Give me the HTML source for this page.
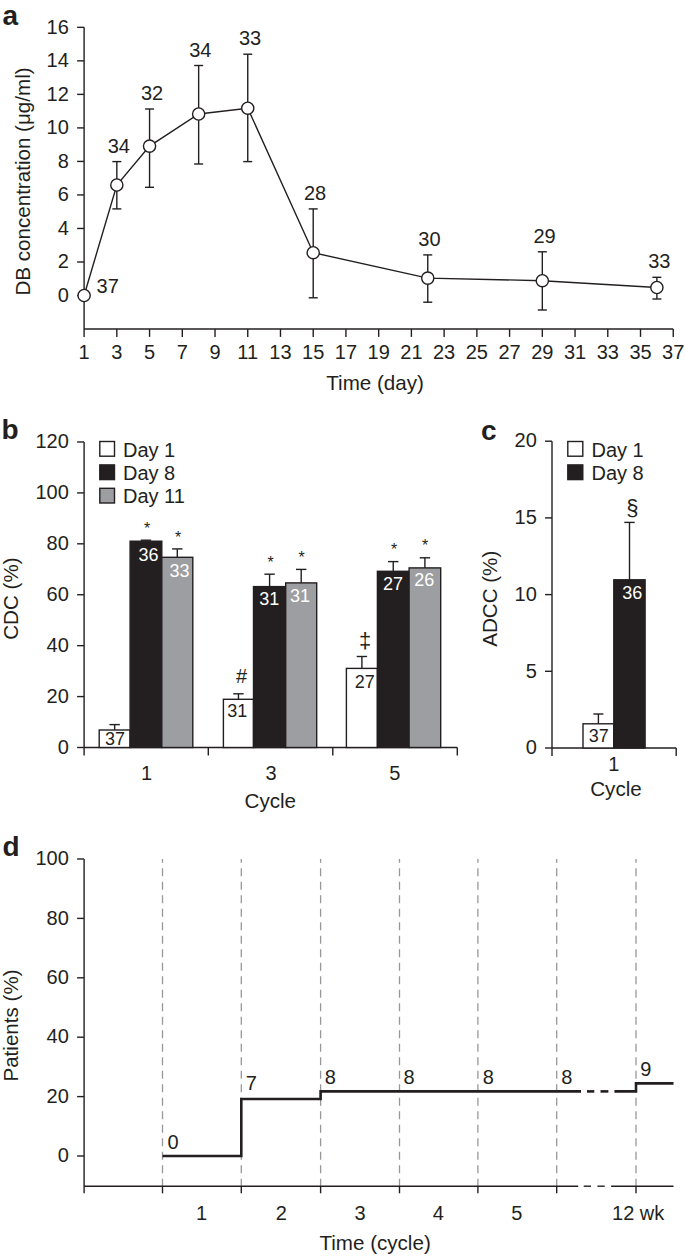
<!DOCTYPE html>
<html><head><meta charset="utf-8"><style>
html,body{margin:0;padding:0;background:#fff;}
svg{display:block;font-family:"Liberation Sans", sans-serif;}
</style></head><body>
<svg width="685" height="1260" viewBox="0 0 685 1260">
<rect width="685" height="1260" fill="#fff"/>
<text x="2.50" y="25.30" font-size="28" text-anchor="start" fill="#231f20" font-weight="bold" >a</text>
<line x1="84.10" y1="27.34" x2="84.10" y2="329.00" stroke="#231f20" stroke-width="1.4" />
<line x1="77.10" y1="295.50" x2="84.10" y2="295.50" stroke="#231f20" stroke-width="1.4" />
<text x="68.80" y="301.79" font-size="20" text-anchor="end" fill="#231f20" font-weight="normal" >0</text>
<line x1="77.10" y1="261.98" x2="84.10" y2="261.98" stroke="#231f20" stroke-width="1.4" />
<text x="68.80" y="268.27" font-size="20" text-anchor="end" fill="#231f20" font-weight="normal" >2</text>
<line x1="77.10" y1="228.46" x2="84.10" y2="228.46" stroke="#231f20" stroke-width="1.4" />
<text x="68.80" y="234.75" font-size="20" text-anchor="end" fill="#231f20" font-weight="normal" >4</text>
<line x1="77.10" y1="194.94" x2="84.10" y2="194.94" stroke="#231f20" stroke-width="1.4" />
<text x="68.80" y="201.23" font-size="20" text-anchor="end" fill="#231f20" font-weight="normal" >6</text>
<line x1="77.10" y1="161.42" x2="84.10" y2="161.42" stroke="#231f20" stroke-width="1.4" />
<text x="68.80" y="167.71" font-size="20" text-anchor="end" fill="#231f20" font-weight="normal" >8</text>
<line x1="77.10" y1="127.90" x2="84.10" y2="127.90" stroke="#231f20" stroke-width="1.4" />
<text x="68.80" y="134.19" font-size="20" text-anchor="end" fill="#231f20" font-weight="normal" >10</text>
<line x1="77.10" y1="94.38" x2="84.10" y2="94.38" stroke="#231f20" stroke-width="1.4" />
<text x="68.80" y="100.67" font-size="20" text-anchor="end" fill="#231f20" font-weight="normal" >12</text>
<line x1="77.10" y1="60.86" x2="84.10" y2="60.86" stroke="#231f20" stroke-width="1.4" />
<text x="68.80" y="67.15" font-size="20" text-anchor="end" fill="#231f20" font-weight="normal" >14</text>
<line x1="77.10" y1="27.34" x2="84.10" y2="27.34" stroke="#231f20" stroke-width="1.4" />
<text x="68.80" y="33.63" font-size="20" text-anchor="end" fill="#231f20" font-weight="normal" >16</text>
<line x1="84.10" y1="329.00" x2="673.24" y2="329.00" stroke="#231f20" stroke-width="1.4" />
<line x1="84.10" y1="329.00" x2="84.10" y2="336.90" stroke="#231f20" stroke-width="1.4" />
<text x="84.10" y="359.49" font-size="20" text-anchor="middle" fill="#231f20" font-weight="normal" >1</text>
<line x1="116.83" y1="329.00" x2="116.83" y2="336.90" stroke="#231f20" stroke-width="1.4" />
<text x="116.83" y="359.49" font-size="20" text-anchor="middle" fill="#231f20" font-weight="normal" >3</text>
<line x1="149.56" y1="329.00" x2="149.56" y2="336.90" stroke="#231f20" stroke-width="1.4" />
<text x="149.56" y="359.49" font-size="20" text-anchor="middle" fill="#231f20" font-weight="normal" >5</text>
<line x1="182.29" y1="329.00" x2="182.29" y2="336.90" stroke="#231f20" stroke-width="1.4" />
<text x="182.29" y="359.49" font-size="20" text-anchor="middle" fill="#231f20" font-weight="normal" >7</text>
<line x1="215.02" y1="329.00" x2="215.02" y2="336.90" stroke="#231f20" stroke-width="1.4" />
<text x="215.02" y="359.49" font-size="20" text-anchor="middle" fill="#231f20" font-weight="normal" >9</text>
<line x1="247.75" y1="329.00" x2="247.75" y2="336.90" stroke="#231f20" stroke-width="1.4" />
<text x="247.75" y="359.49" font-size="20" text-anchor="middle" fill="#231f20" font-weight="normal" >11</text>
<line x1="280.48" y1="329.00" x2="280.48" y2="336.90" stroke="#231f20" stroke-width="1.4" />
<text x="280.48" y="359.49" font-size="20" text-anchor="middle" fill="#231f20" font-weight="normal" >13</text>
<line x1="313.21" y1="329.00" x2="313.21" y2="336.90" stroke="#231f20" stroke-width="1.4" />
<text x="313.21" y="359.49" font-size="20" text-anchor="middle" fill="#231f20" font-weight="normal" >15</text>
<line x1="345.94" y1="329.00" x2="345.94" y2="336.90" stroke="#231f20" stroke-width="1.4" />
<text x="345.94" y="359.49" font-size="20" text-anchor="middle" fill="#231f20" font-weight="normal" >17</text>
<line x1="378.67" y1="329.00" x2="378.67" y2="336.90" stroke="#231f20" stroke-width="1.4" />
<text x="378.67" y="359.49" font-size="20" text-anchor="middle" fill="#231f20" font-weight="normal" >19</text>
<line x1="411.40" y1="329.00" x2="411.40" y2="336.90" stroke="#231f20" stroke-width="1.4" />
<text x="411.40" y="359.49" font-size="20" text-anchor="middle" fill="#231f20" font-weight="normal" >21</text>
<line x1="444.13" y1="329.00" x2="444.13" y2="336.90" stroke="#231f20" stroke-width="1.4" />
<text x="444.13" y="359.49" font-size="20" text-anchor="middle" fill="#231f20" font-weight="normal" >23</text>
<line x1="476.86" y1="329.00" x2="476.86" y2="336.90" stroke="#231f20" stroke-width="1.4" />
<text x="476.86" y="359.49" font-size="20" text-anchor="middle" fill="#231f20" font-weight="normal" >25</text>
<line x1="509.59" y1="329.00" x2="509.59" y2="336.90" stroke="#231f20" stroke-width="1.4" />
<text x="509.59" y="359.49" font-size="20" text-anchor="middle" fill="#231f20" font-weight="normal" >27</text>
<line x1="542.32" y1="329.00" x2="542.32" y2="336.90" stroke="#231f20" stroke-width="1.4" />
<text x="542.32" y="359.49" font-size="20" text-anchor="middle" fill="#231f20" font-weight="normal" >29</text>
<line x1="575.05" y1="329.00" x2="575.05" y2="336.90" stroke="#231f20" stroke-width="1.4" />
<text x="575.05" y="359.49" font-size="20" text-anchor="middle" fill="#231f20" font-weight="normal" >31</text>
<line x1="607.78" y1="329.00" x2="607.78" y2="336.90" stroke="#231f20" stroke-width="1.4" />
<text x="607.78" y="359.49" font-size="20" text-anchor="middle" fill="#231f20" font-weight="normal" >33</text>
<line x1="640.51" y1="329.00" x2="640.51" y2="336.90" stroke="#231f20" stroke-width="1.4" />
<text x="640.51" y="359.49" font-size="20" text-anchor="middle" fill="#231f20" font-weight="normal" >35</text>
<line x1="673.24" y1="329.00" x2="673.24" y2="336.90" stroke="#231f20" stroke-width="1.4" />
<text x="673.24" y="359.49" font-size="20" text-anchor="middle" fill="#231f20" font-weight="normal" >37</text>
<text x="375.10" y="389.60" font-size="20.6" text-anchor="middle" fill="#231f20" font-weight="normal" >Time (day)</text>
<text transform="translate(29.8,181.5) rotate(-90)" font-size="20.6" text-anchor="middle" fill="#231f20">DB concentration (μg/ml)</text>
<line x1="116.83" y1="161.60" x2="116.83" y2="208.90" stroke="#231f20" stroke-width="1.4" />
<line x1="112.33" y1="161.60" x2="121.33" y2="161.60" stroke="#231f20" stroke-width="1.4" />
<line x1="112.33" y1="208.90" x2="121.33" y2="208.90" stroke="#231f20" stroke-width="1.4" />
<line x1="149.56" y1="109.00" x2="149.56" y2="187.30" stroke="#231f20" stroke-width="1.4" />
<line x1="145.06" y1="109.00" x2="154.06" y2="109.00" stroke="#231f20" stroke-width="1.4" />
<line x1="145.06" y1="187.30" x2="154.06" y2="187.30" stroke="#231f20" stroke-width="1.4" />
<line x1="198.65" y1="65.50" x2="198.65" y2="164.00" stroke="#231f20" stroke-width="1.4" />
<line x1="194.15" y1="65.50" x2="203.15" y2="65.50" stroke="#231f20" stroke-width="1.4" />
<line x1="194.15" y1="164.00" x2="203.15" y2="164.00" stroke="#231f20" stroke-width="1.4" />
<line x1="247.75" y1="54.20" x2="247.75" y2="161.60" stroke="#231f20" stroke-width="1.4" />
<line x1="243.25" y1="54.20" x2="252.25" y2="54.20" stroke="#231f20" stroke-width="1.4" />
<line x1="243.25" y1="161.60" x2="252.25" y2="161.60" stroke="#231f20" stroke-width="1.4" />
<line x1="313.21" y1="208.90" x2="313.21" y2="297.80" stroke="#231f20" stroke-width="1.4" />
<line x1="308.71" y1="208.90" x2="317.71" y2="208.90" stroke="#231f20" stroke-width="1.4" />
<line x1="308.71" y1="297.80" x2="317.71" y2="297.80" stroke="#231f20" stroke-width="1.4" />
<line x1="427.76" y1="254.90" x2="427.76" y2="302.20" stroke="#231f20" stroke-width="1.4" />
<line x1="423.26" y1="254.90" x2="432.26" y2="254.90" stroke="#231f20" stroke-width="1.4" />
<line x1="423.26" y1="302.20" x2="432.26" y2="302.20" stroke="#231f20" stroke-width="1.4" />
<line x1="542.32" y1="251.80" x2="542.32" y2="310.00" stroke="#231f20" stroke-width="1.4" />
<line x1="537.82" y1="251.80" x2="546.82" y2="251.80" stroke="#231f20" stroke-width="1.4" />
<line x1="537.82" y1="310.00" x2="546.82" y2="310.00" stroke="#231f20" stroke-width="1.4" />
<line x1="656.88" y1="277.30" x2="656.88" y2="299.00" stroke="#231f20" stroke-width="1.4" />
<line x1="652.38" y1="277.30" x2="661.38" y2="277.30" stroke="#231f20" stroke-width="1.4" />
<line x1="652.38" y1="299.00" x2="661.38" y2="299.00" stroke="#231f20" stroke-width="1.4" />
<polyline points="84.10,295.50 116.83,185.00 149.56,146.10 198.65,114.00 247.75,108.20 313.21,252.70 427.76,278.10 542.32,280.70 656.88,287.50" fill="none" stroke="#231f20" stroke-width="1.4"/>
<circle cx="84.10" cy="295.50" r="6.1" fill="#fff" stroke="#231f20" stroke-width="1.4"/>
<text x="107.70" y="292.59" font-size="20" text-anchor="middle" fill="#231f20" font-weight="normal" >37</text>
<circle cx="116.83" cy="185.00" r="6.1" fill="#fff" stroke="#231f20" stroke-width="1.4"/>
<text x="118.80" y="152.69" font-size="20" text-anchor="middle" fill="#231f20" font-weight="normal" >34</text>
<circle cx="149.56" cy="146.10" r="6.1" fill="#fff" stroke="#231f20" stroke-width="1.4"/>
<text x="152.00" y="100.19" font-size="20" text-anchor="middle" fill="#231f20" font-weight="normal" >32</text>
<circle cx="198.65" cy="114.00" r="6.1" fill="#fff" stroke="#231f20" stroke-width="1.4"/>
<text x="200.30" y="56.99" font-size="20" text-anchor="middle" fill="#231f20" font-weight="normal" >34</text>
<circle cx="247.75" cy="108.20" r="6.1" fill="#fff" stroke="#231f20" stroke-width="1.4"/>
<text x="250.00" y="45.29" font-size="20" text-anchor="middle" fill="#231f20" font-weight="normal" >33</text>
<circle cx="313.21" cy="252.70" r="6.1" fill="#fff" stroke="#231f20" stroke-width="1.4"/>
<text x="315.00" y="200.29" font-size="20" text-anchor="middle" fill="#231f20" font-weight="normal" >28</text>
<circle cx="427.76" cy="278.10" r="6.1" fill="#fff" stroke="#231f20" stroke-width="1.4"/>
<text x="429.40" y="245.89" font-size="20" text-anchor="middle" fill="#231f20" font-weight="normal" >30</text>
<circle cx="542.32" cy="280.70" r="6.1" fill="#fff" stroke="#231f20" stroke-width="1.4"/>
<text x="544.60" y="243.29" font-size="20" text-anchor="middle" fill="#231f20" font-weight="normal" >29</text>
<circle cx="656.88" cy="287.50" r="6.1" fill="#fff" stroke="#231f20" stroke-width="1.4"/>
<text x="659.30" y="268.29" font-size="20" text-anchor="middle" fill="#231f20" font-weight="normal" >33</text>
<text x="1.40" y="438.50" font-size="28" text-anchor="start" fill="#231f20" font-weight="bold" >b</text>
<line x1="84.10" y1="441.98" x2="84.10" y2="755.50" stroke="#231f20" stroke-width="1.4" />
<line x1="77.10" y1="747.50" x2="84.10" y2="747.50" stroke="#231f20" stroke-width="1.4" />
<text x="68.80" y="753.79" font-size="20" text-anchor="end" fill="#231f20" font-weight="normal" >0</text>
<line x1="77.10" y1="696.58" x2="84.10" y2="696.58" stroke="#231f20" stroke-width="1.4" />
<text x="68.80" y="702.87" font-size="20" text-anchor="end" fill="#231f20" font-weight="normal" >20</text>
<line x1="77.10" y1="645.66" x2="84.10" y2="645.66" stroke="#231f20" stroke-width="1.4" />
<text x="68.80" y="651.95" font-size="20" text-anchor="end" fill="#231f20" font-weight="normal" >40</text>
<line x1="77.10" y1="594.74" x2="84.10" y2="594.74" stroke="#231f20" stroke-width="1.4" />
<text x="68.80" y="601.03" font-size="20" text-anchor="end" fill="#231f20" font-weight="normal" >60</text>
<line x1="77.10" y1="543.82" x2="84.10" y2="543.82" stroke="#231f20" stroke-width="1.4" />
<text x="68.80" y="550.11" font-size="20" text-anchor="end" fill="#231f20" font-weight="normal" >80</text>
<line x1="77.10" y1="492.90" x2="84.10" y2="492.90" stroke="#231f20" stroke-width="1.4" />
<text x="68.80" y="499.19" font-size="20" text-anchor="end" fill="#231f20" font-weight="normal" >100</text>
<line x1="77.10" y1="441.98" x2="84.10" y2="441.98" stroke="#231f20" stroke-width="1.4" />
<text x="68.80" y="448.27" font-size="20" text-anchor="end" fill="#231f20" font-weight="normal" >120</text>
<line x1="84.10" y1="747.50" x2="457.30" y2="747.50" stroke="#231f20" stroke-width="1.4" />
<line x1="208.30" y1="747.50" x2="208.30" y2="755.50" stroke="#231f20" stroke-width="1.4" />
<line x1="332.80" y1="747.50" x2="332.80" y2="755.50" stroke="#231f20" stroke-width="1.4" />
<line x1="457.30" y1="747.50" x2="457.30" y2="755.50" stroke="#231f20" stroke-width="1.4" />
<rect x="99.80" y="441.50" width="14.70" height="14.70" fill="#fff" stroke="#231f20" stroke-width="1.4"/>
<text x="123.00" y="456.60" font-size="20" text-anchor="start" fill="#231f20" font-weight="normal" >Day 1</text>
<rect x="99.80" y="464.90" width="14.70" height="14.70" fill="#231f20" stroke="#231f20" stroke-width="1.4"/>
<text x="123.00" y="479.60" font-size="20" text-anchor="start" fill="#231f20" font-weight="normal" >Day 8</text>
<rect x="99.80" y="488.30" width="14.70" height="14.70" fill="#9d9ea1" stroke="#231f20" stroke-width="1.4"/>
<text x="123.00" y="502.60" font-size="20" text-anchor="start" fill="#231f20" font-weight="normal" >Day 11</text>
<line x1="114.65" y1="730.00" x2="114.65" y2="724.60" stroke="#231f20" stroke-width="1.4" />
<line x1="109.45" y1="724.60" x2="119.85" y2="724.60" stroke="#231f20" stroke-width="1.4" />
<rect x="99.20" y="730.00" width="30.90" height="17.50" fill="#fff" stroke="#231f20" stroke-width="1.4"/>
<text x="114.90" y="745.00" font-size="18" text-anchor="middle" fill="#231f20" font-weight="normal" >37</text>
<line x1="145.95" y1="541.20" x2="145.95" y2="540.20" stroke="#231f20" stroke-width="1.4" />
<line x1="140.75" y1="540.20" x2="151.15" y2="540.20" stroke="#231f20" stroke-width="1.4" />
<rect x="130.10" y="541.20" width="31.70" height="206.30" fill="#231f20" stroke="#231f20" stroke-width="1.4"/>
<text x="148.40" y="560.80" font-size="18" text-anchor="middle" fill="#fff" font-weight="normal" >36</text>
<text x="147.10" y="533.61" font-size="16" text-anchor="middle" fill="#231f20" font-weight="normal" >*</text>
<line x1="177.30" y1="557.30" x2="177.30" y2="548.90" stroke="#231f20" stroke-width="1.4" />
<line x1="172.10" y1="548.90" x2="182.50" y2="548.90" stroke="#231f20" stroke-width="1.4" />
<rect x="161.80" y="557.30" width="31.00" height="190.20" fill="#9d9ea1" stroke="#231f20" stroke-width="1.4"/>
<text x="179.50" y="576.90" font-size="18" text-anchor="middle" fill="#fff" font-weight="normal" >33</text>
<text x="178.00" y="542.61" font-size="16" text-anchor="middle" fill="#231f20" font-weight="normal" >*</text>
<line x1="238.45" y1="699.30" x2="238.45" y2="693.80" stroke="#231f20" stroke-width="1.4" />
<line x1="233.25" y1="693.80" x2="243.65" y2="693.80" stroke="#231f20" stroke-width="1.4" />
<rect x="223.40" y="699.30" width="30.10" height="48.20" fill="#fff" stroke="#231f20" stroke-width="1.4"/>
<text x="237.30" y="716.60" font-size="18" text-anchor="middle" fill="#231f20" font-weight="normal" >31</text>
<text x="241.50" y="683.35" font-size="20" text-anchor="middle" fill="#231f20" font-weight="normal" >#</text>
<line x1="269.60" y1="586.60" x2="269.60" y2="574.20" stroke="#231f20" stroke-width="1.4" />
<line x1="264.40" y1="574.20" x2="274.80" y2="574.20" stroke="#231f20" stroke-width="1.4" />
<rect x="253.50" y="586.60" width="32.20" height="160.90" fill="#231f20" stroke="#231f20" stroke-width="1.4"/>
<text x="269.20" y="605.40" font-size="18" text-anchor="middle" fill="#fff" font-weight="normal" >31</text>
<text x="270.60" y="567.91" font-size="16" text-anchor="middle" fill="#231f20" font-weight="normal" >*</text>
<line x1="301.20" y1="582.90" x2="301.20" y2="569.40" stroke="#231f20" stroke-width="1.4" />
<line x1="296.00" y1="569.40" x2="306.40" y2="569.40" stroke="#231f20" stroke-width="1.4" />
<rect x="285.70" y="582.90" width="31.00" height="164.60" fill="#9d9ea1" stroke="#231f20" stroke-width="1.4"/>
<text x="300.00" y="601.80" font-size="18" text-anchor="middle" fill="#fff" font-weight="normal" >31</text>
<text x="301.70" y="563.11" font-size="16" text-anchor="middle" fill="#231f20" font-weight="normal" >*</text>
<line x1="361.90" y1="668.40" x2="361.90" y2="656.50" stroke="#231f20" stroke-width="1.4" />
<line x1="356.70" y1="656.50" x2="367.10" y2="656.50" stroke="#231f20" stroke-width="1.4" />
<rect x="346.40" y="668.40" width="31.00" height="79.10" fill="#fff" stroke="#231f20" stroke-width="1.4"/>
<text x="364.70" y="688.00" font-size="18" text-anchor="middle" fill="#231f20" font-weight="normal" >27</text>
<text x="365.10" y="648.43" font-size="22" text-anchor="middle" fill="#231f20" font-weight="normal" >‡</text>
<line x1="393.25" y1="571.30" x2="393.25" y2="561.60" stroke="#231f20" stroke-width="1.4" />
<line x1="388.05" y1="561.60" x2="398.45" y2="561.60" stroke="#231f20" stroke-width="1.4" />
<rect x="377.40" y="571.30" width="31.70" height="176.20" fill="#231f20" stroke="#231f20" stroke-width="1.4"/>
<text x="393.00" y="590.40" font-size="18" text-anchor="middle" fill="#fff" font-weight="normal" >27</text>
<text x="394.00" y="555.31" font-size="16" text-anchor="middle" fill="#231f20" font-weight="normal" >*</text>
<line x1="424.90" y1="567.90" x2="424.90" y2="557.80" stroke="#231f20" stroke-width="1.4" />
<line x1="419.70" y1="557.80" x2="430.10" y2="557.80" stroke="#231f20" stroke-width="1.4" />
<rect x="409.10" y="567.90" width="31.60" height="179.60" fill="#9d9ea1" stroke="#231f20" stroke-width="1.4"/>
<text x="424.30" y="585.80" font-size="18" text-anchor="middle" fill="#fff" font-weight="normal" >26</text>
<text x="425.10" y="551.21" font-size="16" text-anchor="middle" fill="#231f20" font-weight="normal" >*</text>
<text x="146.60" y="779.59" font-size="20" text-anchor="middle" fill="#231f20" font-weight="normal" >1</text>
<text x="271.00" y="779.59" font-size="20" text-anchor="middle" fill="#231f20" font-weight="normal" >3</text>
<text x="394.70" y="779.59" font-size="20" text-anchor="middle" fill="#231f20" font-weight="normal" >5</text>
<text x="270.30" y="807.50" font-size="20.6" text-anchor="middle" fill="#231f20" font-weight="normal" >Cycle</text>
<text transform="translate(17.8,598.6) rotate(-90)" font-size="20.6" text-anchor="middle" fill="#231f20">CDC (%)</text>
<text x="481.00" y="439.60" font-size="28" text-anchor="start" fill="#231f20" font-weight="bold" >c</text>
<line x1="552.00" y1="441.20" x2="552.00" y2="756.00" stroke="#231f20" stroke-width="1.4" />
<line x1="545.00" y1="748.00" x2="552.00" y2="748.00" stroke="#231f20" stroke-width="1.4" />
<text x="536.80" y="754.29" font-size="20" text-anchor="end" fill="#231f20" font-weight="normal" >0</text>
<line x1="545.00" y1="671.30" x2="552.00" y2="671.30" stroke="#231f20" stroke-width="1.4" />
<text x="536.80" y="677.59" font-size="20" text-anchor="end" fill="#231f20" font-weight="normal" >5</text>
<line x1="545.00" y1="594.60" x2="552.00" y2="594.60" stroke="#231f20" stroke-width="1.4" />
<text x="536.80" y="600.89" font-size="20" text-anchor="end" fill="#231f20" font-weight="normal" >10</text>
<line x1="545.00" y1="517.90" x2="552.00" y2="517.90" stroke="#231f20" stroke-width="1.4" />
<text x="536.80" y="524.19" font-size="20" text-anchor="end" fill="#231f20" font-weight="normal" >15</text>
<line x1="545.00" y1="441.20" x2="552.00" y2="441.20" stroke="#231f20" stroke-width="1.4" />
<text x="536.80" y="447.49" font-size="20" text-anchor="end" fill="#231f20" font-weight="normal" >20</text>
<line x1="552.00" y1="748.00" x2="676.20" y2="748.00" stroke="#231f20" stroke-width="1.4" />
<line x1="676.20" y1="748.00" x2="676.20" y2="756.00" stroke="#231f20" stroke-width="1.4" />
<rect x="567.80" y="441.50" width="15.00" height="14.70" fill="#fff" stroke="#231f20" stroke-width="1.4"/>
<text x="591.50" y="456.60" font-size="20" text-anchor="start" fill="#231f20" font-weight="normal" >Day 1</text>
<rect x="567.80" y="464.90" width="15.00" height="14.70" fill="#231f20" stroke="#231f20" stroke-width="1.4"/>
<text x="591.50" y="479.60" font-size="20" text-anchor="start" fill="#231f20" font-weight="normal" >Day 8</text>
<line x1="598.40" y1="723.80" x2="598.40" y2="714.00" stroke="#231f20" stroke-width="1.4" />
<line x1="593.40" y1="714.00" x2="603.40" y2="714.00" stroke="#231f20" stroke-width="1.4" />
<rect x="583.00" y="723.80" width="30.80" height="24.20" fill="#fff" stroke="#231f20" stroke-width="1.4"/>
<line x1="629.50" y1="579.80" x2="629.50" y2="522.40" stroke="#231f20" stroke-width="1.4" />
<line x1="624.30" y1="522.40" x2="634.70" y2="522.40" stroke="#231f20" stroke-width="1.4" />
<rect x="613.80" y="579.80" width="31.30" height="168.20" fill="#231f20" stroke="#231f20" stroke-width="1.4"/>
<text x="598.70" y="741.60" font-size="18" text-anchor="middle" fill="#231f20" font-weight="normal" >37</text>
<text x="632.30" y="599.10" font-size="18" text-anchor="middle" fill="#fff" font-weight="normal" >36</text>
<text x="632.40" y="514.66" font-size="22" text-anchor="middle" fill="#231f20" font-weight="normal" >§</text>
<text x="613.80" y="771.49" font-size="20" text-anchor="middle" fill="#231f20" font-weight="normal" >1</text>
<text x="616.00" y="796.20" font-size="20.6" text-anchor="middle" fill="#231f20" font-weight="normal" >Cycle</text>
<text transform="translate(497.0,598.8) rotate(-90)" font-size="20.6" text-anchor="middle" fill="#231f20">ADCC (%)</text>
<text x="2.50" y="855.90" font-size="28" text-anchor="start" fill="#231f20" font-weight="bold" >d</text>
<line x1="84.10" y1="859.00" x2="84.10" y2="1193.30" stroke="#231f20" stroke-width="1.4" />
<line x1="77.10" y1="1156.00" x2="84.10" y2="1156.00" stroke="#231f20" stroke-width="1.4" />
<text x="68.80" y="1162.29" font-size="20" text-anchor="end" fill="#231f20" font-weight="normal" >0</text>
<line x1="77.10" y1="1096.60" x2="84.10" y2="1096.60" stroke="#231f20" stroke-width="1.4" />
<text x="68.80" y="1102.89" font-size="20" text-anchor="end" fill="#231f20" font-weight="normal" >20</text>
<line x1="77.10" y1="1037.20" x2="84.10" y2="1037.20" stroke="#231f20" stroke-width="1.4" />
<text x="68.80" y="1043.49" font-size="20" text-anchor="end" fill="#231f20" font-weight="normal" >40</text>
<line x1="77.10" y1="977.80" x2="84.10" y2="977.80" stroke="#231f20" stroke-width="1.4" />
<text x="68.80" y="984.09" font-size="20" text-anchor="end" fill="#231f20" font-weight="normal" >60</text>
<line x1="77.10" y1="918.40" x2="84.10" y2="918.40" stroke="#231f20" stroke-width="1.4" />
<text x="68.80" y="924.69" font-size="20" text-anchor="end" fill="#231f20" font-weight="normal" >80</text>
<line x1="77.10" y1="859.00" x2="84.10" y2="859.00" stroke="#231f20" stroke-width="1.4" />
<text x="68.80" y="865.29" font-size="20" text-anchor="end" fill="#231f20" font-weight="normal" >100</text>
<line x1="162.5" y1="859.00" x2="162.5" y2="1186.2" stroke="#97989c" stroke-width="1.3" stroke-dasharray="8 5.5" stroke-dashoffset="4.3"/>
<line x1="241.3" y1="859.00" x2="241.3" y2="1186.2" stroke="#97989c" stroke-width="1.3" stroke-dasharray="8 5.5" stroke-dashoffset="4.3"/>
<line x1="320.6" y1="859.00" x2="320.6" y2="1186.2" stroke="#97989c" stroke-width="1.3" stroke-dasharray="8 5.5" stroke-dashoffset="4.3"/>
<line x1="399.5" y1="859.00" x2="399.5" y2="1186.2" stroke="#97989c" stroke-width="1.3" stroke-dasharray="8 5.5" stroke-dashoffset="4.3"/>
<line x1="477.9" y1="859.00" x2="477.9" y2="1186.2" stroke="#97989c" stroke-width="1.3" stroke-dasharray="8 5.5" stroke-dashoffset="4.3"/>
<line x1="556.7" y1="859.00" x2="556.7" y2="1186.2" stroke="#97989c" stroke-width="1.3" stroke-dasharray="8 5.5" stroke-dashoffset="4.3"/>
<line x1="636.0" y1="859.00" x2="636.0" y2="1186.2" stroke="#97989c" stroke-width="1.3" stroke-dasharray="8 5.5" stroke-dashoffset="4.3"/>
<line x1="84.10" y1="1186.20" x2="578.20" y2="1186.20" stroke="#231f20" stroke-width="1.4" />
<line x1="583.70" y1="1186.20" x2="591.00" y2="1186.20" stroke="#231f20" stroke-width="1.4" />
<line x1="597.40" y1="1186.20" x2="604.70" y2="1186.20" stroke="#231f20" stroke-width="1.4" />
<line x1="611.10" y1="1186.20" x2="673.50" y2="1186.20" stroke="#231f20" stroke-width="1.4" />
<line x1="162.50" y1="1186.20" x2="162.50" y2="1193.30" stroke="#231f20" stroke-width="1.4" />
<line x1="241.30" y1="1186.20" x2="241.30" y2="1193.30" stroke="#231f20" stroke-width="1.4" />
<line x1="320.60" y1="1186.20" x2="320.60" y2="1193.30" stroke="#231f20" stroke-width="1.4" />
<line x1="399.50" y1="1186.20" x2="399.50" y2="1193.30" stroke="#231f20" stroke-width="1.4" />
<line x1="477.90" y1="1186.20" x2="477.90" y2="1193.30" stroke="#231f20" stroke-width="1.4" />
<line x1="556.70" y1="1186.20" x2="556.70" y2="1193.30" stroke="#231f20" stroke-width="1.4" />
<line x1="636.00" y1="1186.20" x2="636.00" y2="1193.30" stroke="#231f20" stroke-width="1.4" />
<polyline points="162.5,1156 241.3,1156 241.3,1099 320.6,1099 320.6,1091.4 581,1091.4" fill="none" stroke="#231f20" stroke-width="2.6"/>
<line x1="587.00" y1="1091.40" x2="594.30" y2="1091.40" stroke="#231f20" stroke-width="2.6" />
<line x1="600.50" y1="1091.40" x2="608.40" y2="1091.40" stroke="#231f20" stroke-width="2.6" />
<polyline points="614.4,1091.4 636,1091.4 636,1083.4 673.5,1083.4" fill="none" stroke="#231f20" stroke-width="2.6"/>
<text x="173.00" y="1148.69" font-size="20" text-anchor="middle" fill="#231f20" font-weight="normal" >0</text>
<text x="251.40" y="1090.39" font-size="20" text-anchor="middle" fill="#231f20" font-weight="normal" >7</text>
<text x="330.30" y="1084.29" font-size="20" text-anchor="middle" fill="#231f20" font-weight="normal" >8</text>
<text x="409.10" y="1084.39" font-size="20" text-anchor="middle" fill="#231f20" font-weight="normal" >8</text>
<text x="488.40" y="1084.39" font-size="20" text-anchor="middle" fill="#231f20" font-weight="normal" >8</text>
<text x="566.80" y="1084.39" font-size="20" text-anchor="middle" fill="#231f20" font-weight="normal" >8</text>
<text x="645.80" y="1075.79" font-size="20" text-anchor="middle" fill="#231f20" font-weight="normal" >9</text>
<text x="201.50" y="1220.19" font-size="20" text-anchor="middle" fill="#231f20" font-weight="normal" >1</text>
<text x="281.20" y="1220.19" font-size="20" text-anchor="middle" fill="#231f20" font-weight="normal" >2</text>
<text x="360.00" y="1220.19" font-size="20" text-anchor="middle" fill="#231f20" font-weight="normal" >3</text>
<text x="438.40" y="1220.19" font-size="20" text-anchor="middle" fill="#231f20" font-weight="normal" >4</text>
<text x="516.80" y="1220.19" font-size="20" text-anchor="middle" fill="#231f20" font-weight="normal" >5</text>
<text x="638.20" y="1220.19" font-size="20" text-anchor="middle" fill="#231f20" font-weight="normal" >12 wk</text>
<text x="375.10" y="1250.20" font-size="20.6" text-anchor="middle" fill="#231f20" font-weight="normal" >Time (cycle)</text>
<text transform="translate(17.6,1025.5) rotate(-90)" font-size="20.6" text-anchor="middle" fill="#231f20">Patients (%)</text>
</svg>
</body></html>
